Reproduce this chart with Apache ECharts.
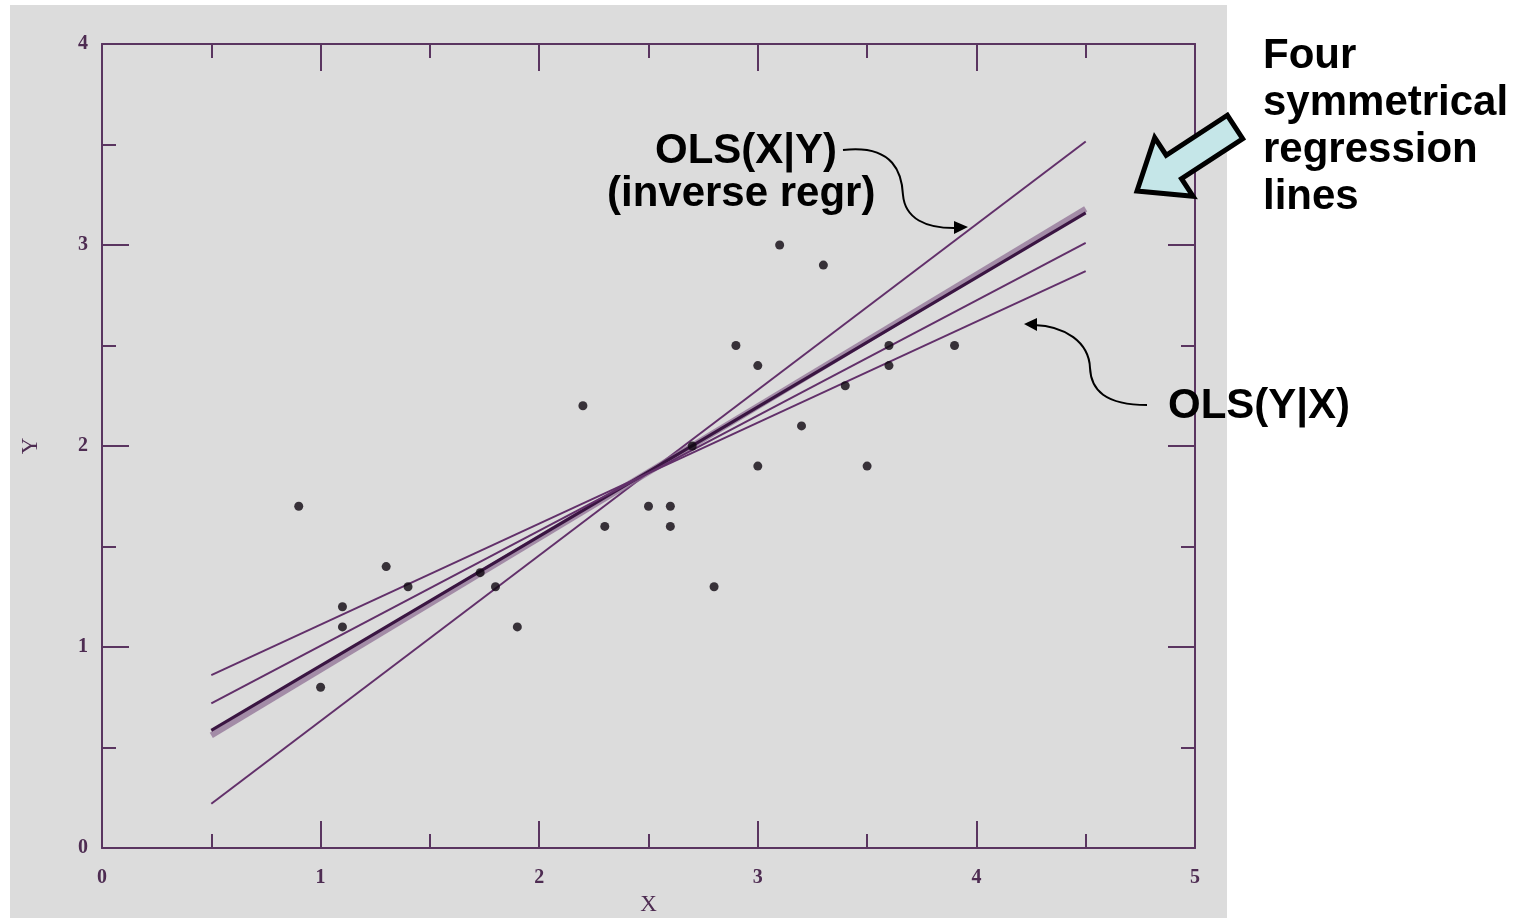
<!DOCTYPE html>
<html>
<head>
<meta charset="utf-8">
<script src="https://cdn.jsdelivr.net/npm/echarts@6/dist/echarts.min.js"></script>
<style>
  html, body { margin: 0; padding: 0; background: #ffffff; }
  #chart { width: 1522px; height: 922px; }
</style>
</head>
<body>
<div id="chart"></div>
<script>
// ---- data ----
const pointX = [0.9, 1.0, 1.1, 1.1, 1.3, 1.4, 1.73, 1.8, 1.9, 2.2, 2.3, 2.5, 2.6, 2.6, 2.7, 2.8, 2.9, 3.0, 3.0, 3.1, 3.2, 3.3, 3.4, 3.5, 3.6, 3.6, 3.9];
const pointY = [1.7, 0.8, 1.2, 1.1, 1.4, 1.3, 1.37, 1.3, 1.1, 2.2, 1.6, 1.7, 1.7, 1.6, 2.0, 1.3, 2.5, 2.4, 1.9, 3.0, 2.1, 2.9, 2.3, 1.9, 2.5, 2.4, 2.5];

// regression lines evaluated at the two ends of the fitted range
const lineX = [0.5, 4.5];
const olsXonY = [0.22, 3.515];     // OLS(X|Y), inverse regression
const bisectorA = [0.56, 3.18];    // thick bundle (two nearly coincident lines)
const bisectorB = [0.585, 3.16];
const middleLine = [0.72, 3.01];
const olsYonX = [0.86, 2.87];      // OLS(Y|X)

const xTicks = [0, 1, 2, 3, 4, 5];
const yTicks = [0, 1, 2, 3, 4];

// ---- chart ----
const chart = echarts.init(document.getElementById('chart'));
const axisColor = '#5a3560';
const labelFont = { fontFamily: 'Liberation Serif', fontSize: 20, fontWeight: 'bold', color: '#4e2c52' };

function pairs(xs, ys) { return xs.map((x, i) => [x, ys[i]]); }

function valueAxis(min, max, showLabel, pos, extra) {
  return Object.assign({
    type: 'value', min: min, max: max, interval: 1, position: pos,
    axisLine: { show: true, onZero: false, lineStyle: { color: axisColor, width: 2 } },
    axisTick: { show: true, inside: true, length: 27, lineStyle: { color: axisColor, width: 2 } },
    minorTick: { show: true, splitNumber: 2, length: 14, lineStyle: { color: axisColor, width: 2 } },
    splitLine: { show: false },
    minorSplitLine: { show: false },
    axisLabel: Object.assign({ show: showLabel }, labelFont),
  }, extra || {});
}

const lineStyleThin = { color: '#62306a', width: 2 };

const els = [];
els.push({ type: 'rect', z: -100, silent: true, shape: { x: 10, y: 5, width: 1217, height: 913 }, style: { fill: '#dcdcdc' } });
const font = 'bold 42px "Liberation Sans", Arial, sans-serif';
function txt(t, x, y) {
  els.push({ type: 'text', z: 100, x: x, y: y, style: { text: t, font: font, fill: '#000', textAlign: 'left', textVerticalAlign: 'middle' } });
}
txt('OLS(X|Y)', 655, 151);
txt('(inverse regr)', 607, 194);
txt('Four', 1263, 56);
txt('symmetrical', 1263, 103);
txt('regression', 1263, 150);
txt('lines', 1263, 197);
txt('OLS(Y|X)', 1168, 406);
function bez(x1, y1, c1x, c1y, c2x, c2y, x2, y2) {
  els.push({ type: 'bezierCurve', z: 100, shape: { x1: x1, y1: y1, cpx1: c1x, cpy1: c1y, cpx2: c2x, cpy2: c2y, x2: x2, y2: y2 },
    style: { stroke: '#000', lineWidth: 2, fill: null } });
}
// curved arrow to OLS(X|Y)
bez(843, 150, 895, 144, 902, 175, 903, 195);
bez(903, 195, 905, 218, 925, 229, 958, 228);
els.push({ type: 'polygon', z: 100, shape: { points: [[968, 227], [954, 221], [954, 234]] }, style: { fill: '#000' } });
// curved arrow to OLS(Y|X)
bez(1147, 405, 1105, 405, 1091, 390, 1090, 368);
bez(1090, 368, 1089, 342, 1065, 326, 1034, 325);
els.push({ type: 'polygon', z: 100, shape: { points: [[1024, 324], [1037, 318], [1037, 331]] }, style: { fill: '#000' } });
// block arrow
(function () {
  const T = [1235, 127], P = [1137, 191];
  const dx = P[0] - T[0], dy = P[1] - T[1], L = Math.hypot(dx, dy);
  const u = [dx / L, dy / L], n = [-u[1], u[0]];
  const hl = 44, sw = 14, hw = 35;
  const B = [P[0] - u[0] * hl, P[1] - u[1] * hl];
  const pts = [
    [T[0] + n[0] * sw, T[1] + n[1] * sw],
    [B[0] + n[0] * sw, B[1] + n[1] * sw],
    [B[0] + n[0] * hw, B[1] + n[1] * hw],
    P,
    [B[0] - n[0] * hw, B[1] - n[1] * hw],
    [B[0] - n[0] * sw, B[1] - n[1] * sw],
    [T[0] - n[0] * sw, T[1] - n[1] * sw]
  ];
  els.push({ type: 'polygon', z: 100, shape: { points: pts }, style: { fill: '#c5e6e8', stroke: '#000', lineWidth: 5, lineJoin: 'miter' } });
})();

chart.setOption({
  backgroundColor: '#ffffff',
  animation: false,
  grid: { left: 102, right: 327, top: 44, bottom: 74, containLabel: false },
  xAxis: [
    valueAxis(0, 5, true, 'bottom', {
      name: 'X', nameLocation: 'middle', nameGap: 45,
      nameTextStyle: { fontFamily: 'Liberation Serif', fontSize: 23, color: '#4e2c52' },
      axisLabel: Object.assign({ show: true, margin: 20 }, labelFont)
    }),
    valueAxis(0, 5, false, 'top', {})
  ],
  yAxis: [
    valueAxis(0, 4, true, 'left', {
      name: 'Y', nameLocation: 'middle', nameGap: 60, nameRotate: 90,
      nameTextStyle: { fontFamily: 'Liberation Serif', fontSize: 23, color: '#4e2c52' },
      axisLabel: Object.assign({ show: true, margin: 14 }, labelFont)
    }),
    valueAxis(0, 4, false, 'right', {})
  ],
  series: [
    { type: 'line', name: 'OLS(X|Y)', data: pairs(lineX, olsXonY), symbol: 'none', lineStyle: lineStyleThin, z: 3 },
    { type: 'line', name: 'bisector halo', data: pairs(lineX, bisectorA), symbol: 'none', lineStyle: { color: '#8a6a90', width: 6, opacity: 0.7 }, z: 3 },
    { type: 'line', name: 'bisector', data: pairs(lineX, bisectorB), symbol: 'none', lineStyle: { color: '#3a1542', width: 3 }, z: 3 },
    { type: 'line', name: 'middle', data: pairs(lineX, middleLine), symbol: 'none', lineStyle: lineStyleThin, z: 3 },
    { type: 'line', name: 'OLS(Y|X)', data: pairs(lineX, olsYonX), symbol: 'none', lineStyle: lineStyleThin, z: 3 },
    { type: 'scatter', name: 'data', data: pairs(pointX, pointY), symbol: 'circle', symbolSize: 9,
      itemStyle: { color: '#0e060f' }, z: 5 }
  ],
  graphic: { elements: els }
});
</script>
</body>
</html>
